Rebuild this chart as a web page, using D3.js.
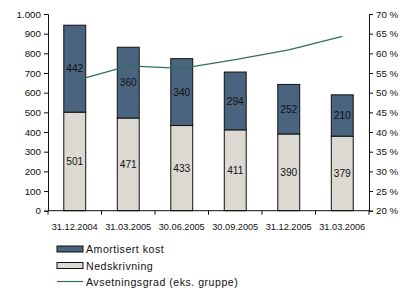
<!DOCTYPE html>
<html>
<head>
<meta charset="utf-8">
<script src="https://cdn.jsdelivr.net/npm/d3@7"></script>
<style>
  body { margin: 0; background: #fff; }
  svg text { font-family: "Liberation Sans", Arial, sans-serif; fill: #111; }
</style>
</head>
<body>
<div id="chart"></div>
<script>
// chart data
var dates = ["31.12.2004", "31.03.2005", "30.06.2005", "30.09.2005", "31.12.2005", "31.03.2006"];
var nedskrivning = [501, 471, 433, 411, 390, 379];
var amortisert = [442, 360, 340, 294, 252, 210];
var avsetningsgrad = [53.0, 56.8, 56.2, 58.4, 60.9, 64.3];
var leftTicks = [0, 100, 200, 300, 400, 500, 600, 700, 800, 900, 1000];
var rightTicks = [20, 25, 30, 35, 40, 45, 50, 55, 60, 65, 70];

var width = 403, height = 288;
var plotLeft = 48, plotRight = 369, plotTop = 14, plotBottom = 210.7;

var svg = d3.select("#chart").append("svg")
  .attr("width", width)
  .attr("height", height);

var x = d3.scaleBand().domain(dates).range([plotLeft, plotRight])
  .paddingInner(0.59).paddingOuter(0.295);
var yL = d3.scaleLinear().domain([0, 1000]).range([plotBottom, plotTop]);
var yR = d3.scaleLinear().domain([20, 70]).range([plotBottom, plotTop]);

var rows = dates.map(function(d, i) {
  return { date: d, ned: nedskrivning[i], amo: amortisert[i], grad: avsetningsgrad[i] };
});

// stacked bars
var bars = svg.append("g");
bars.selectAll("rect.ned").data(rows).enter().append("rect")
  .attr("class", "ned")
  .attr("x", function(d) { return x(d.date); })
  .attr("y", function(d) { return yL(d.ned); })
  .attr("width", x.bandwidth())
  .attr("height", function(d) { return yL(0) - yL(d.ned); })
  .attr("fill", "#dcd9d3")
  .attr("stroke", "#111").attr("stroke-width", 1);

bars.selectAll("rect.amo").data(rows).enter().append("rect")
  .attr("class", "amo")
  .attr("x", function(d) { return x(d.date); })
  .attr("y", function(d) { return yL(d.ned + d.amo); })
  .attr("width", x.bandwidth())
  .attr("height", function(d) { return yL(d.ned) - yL(d.ned + d.amo); })
  .attr("fill", "#4a6480")
  .attr("stroke", "#111").attr("stroke-width", 1);

// value labels
bars.selectAll("text.nedl").data(rows).enter().append("text")
  .attr("x", function(d) { return x(d.date) + x.bandwidth() / 2; })
  .attr("y", function(d) { return yL(d.ned / 2); })
  .attr("dy", "0.35em")
  .attr("text-anchor", "middle")
  .attr("font-size", 10.2)
  .text(function(d) { return d.ned; });

bars.selectAll("text.amol").data(rows).enter().append("text")
  .attr("x", function(d) { return x(d.date) + x.bandwidth() / 2; })
  .attr("y", function(d) { return yL(d.ned + d.amo / 2); })
  .attr("dy", "0.35em")
  .attr("text-anchor", "middle")
  .attr("font-size", 10.2)
  .text(function(d) { return d.amo; });

// line on right axis
var line = d3.line()
  .x(function(d) { return x(d.date) + x.bandwidth() / 2; })
  .y(function(d) { return yR(d.grad); });

svg.append("path")
  .datum(rows)
  .attr("d", line)
  .attr("fill", "none")
  .attr("stroke", "#2f6f5c")
  .attr("stroke-width", 1.2);

// axes
var fmtL = function(d) { return d3.format(",")(d).replace(",", "."); };

var axL = svg.append("g")
  .attr("transform", "translate(" + plotLeft + ",0)")
  .call(d3.axisLeft(yL).tickValues(leftTicks).tickSize(4).tickPadding(3).tickFormat(fmtL));

var axR = svg.append("g")
  .attr("transform", "translate(" + plotRight + ",0)")
  .call(d3.axisRight(yR).tickValues(rightTicks).tickSize(4).tickPadding(3)
    .tickFormat(function(d) { return d + " %"; }));

[axL, axR].forEach(function(ax) {
  ax.select(".domain").attr("stroke", "#111");
  ax.selectAll(".tick line").attr("stroke", "#111");
  ax.selectAll("text").attr("font-size", 9.8).attr("font-family", "Liberation Sans, Arial, sans-serif").attr("fill", "#111");
});

// x axis: ticks at category boundaries
var step = x.step();
var xAxis = svg.append("g");
xAxis.append("line")
  .attr("x1", plotLeft).attr("x2", plotRight)
  .attr("y1", plotBottom).attr("y2", plotBottom)
  .attr("stroke", "#111");
var bounds = dates.map(function(d) { return x(d) - step * 0.295; }).concat([plotRight]);
xAxis.selectAll("line.t").data(bounds).enter().append("line")
  .attr("class", "t")
  .attr("x1", function(d) { return d; }).attr("x2", function(d) { return d; })
  .attr("y1", plotBottom).attr("y2", plotBottom + 4)
  .attr("stroke", "#111");
xAxis.selectAll("text").data(dates).enter().append("text")
  .attr("x", function(d) { return x(d) + x.bandwidth() / 2; })
  .attr("y", 229.5)
  .attr("text-anchor", "middle")
  .attr("font-size", 9.2)
  .text(function(d) { return d; });

// legend
var legend = svg.append("g").attr("transform", "translate(57,0)");
legend.append("rect").attr("x", 0).attr("y", 246).attr("width", 26).attr("height", 6)
  .attr("fill", "#4a6480").attr("stroke", "#111");
legend.append("text").attr("x", 29).attr("y", 253).attr("font-size", 10.6)
  .attr("letter-spacing", 0.5).text("Amortisert kost");
legend.append("rect").attr("x", 0).attr("y", 262.5).attr("width", 26).attr("height", 6)
  .attr("fill", "#dcd9d3").attr("stroke", "#111");
legend.append("text").attr("x", 29).attr("y", 269.5).attr("font-size", 10.6)
  .attr("letter-spacing", 0.5).text("Nedskrivning");
legend.append("line").attr("x1", 0).attr("x2", 26).attr("y1", 281.5).attr("y2", 281.5)
  .attr("stroke", "#2f6f5c").attr("stroke-width", 1.2);
legend.append("text").attr("x", 29).attr("y", 285.5).attr("font-size", 10.6)
  .attr("letter-spacing", 0.5).text("Avsetningsgrad (eks. gruppe)");
</script>
</body>
</html>
